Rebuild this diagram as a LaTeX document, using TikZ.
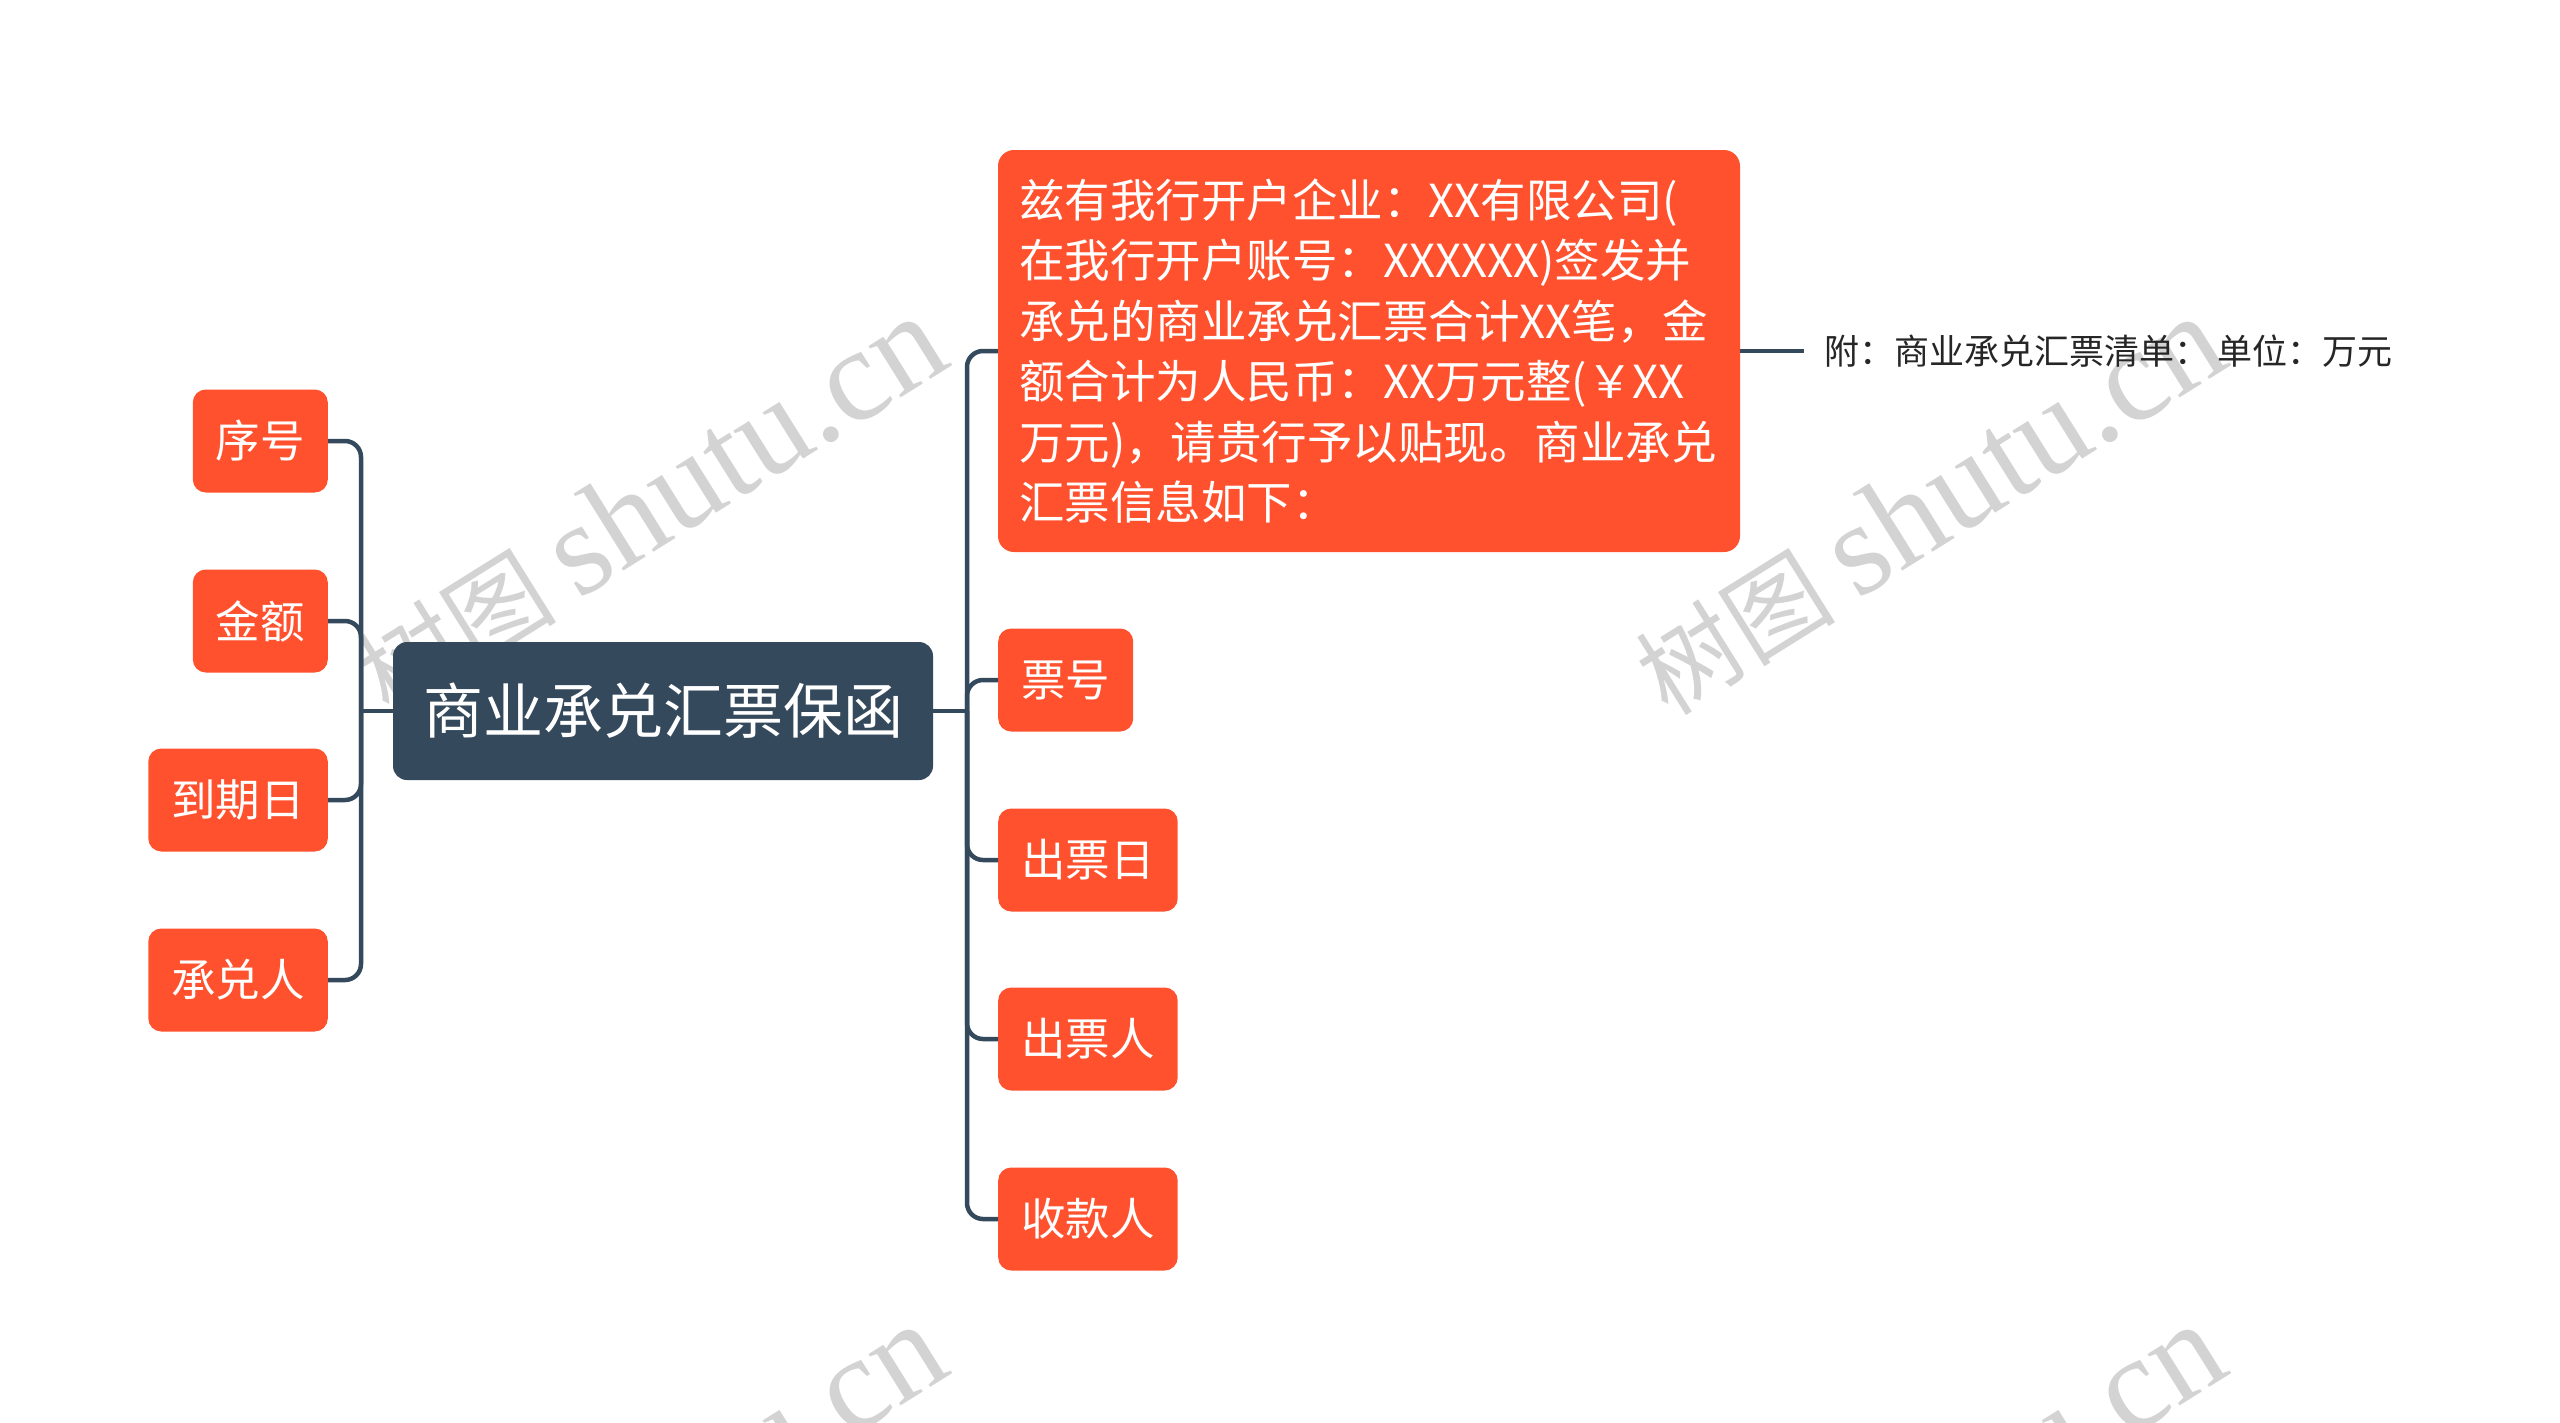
\documentclass[tikz,border=0pt]{standalone}
\usepackage{fontspec}
\setmainfont{Noto Sans CJK SC}
\newfontfamily\wmlatin{Liberation Serif}
\usetikzlibrary{calc}
\definecolor{nodeorange}{HTML}{FF512D}
\definecolor{rootdark}{HTML}{35495C}
\definecolor{wmgray}{HTML}{D3D3D3}
\tikzset{
  leaf/.style={fill=nodeorange, rounded corners=13pt, text=white, inner xsep=23pt, inner ysep=0pt, minimum height=103pt, font=\fontsize{44.5}{52}\selectfont},
  rootbox/.style={fill=rootdark, rounded corners=14pt, text=white, inner xsep=30pt, minimum height=138pt, font=\fontsize{60}{70}\selectfont},
  bigbox/.style={fill=nodeorange, rounded corners=16pt, text=white, minimum width=742pt, minimum height=402pt, text width=700pt, align=left, inner sep=0pt, font=\fontsize{45.5}{60.5}\selectfont},
  conn/.style={draw=rootdark, line width=4.5pt, rounded corners=16pt},
  wm/.style={text=wmgray, rotate=32, inner sep=0pt, font=\fontsize{100}{112}\selectfont},
}
\newcommand{\wmtext}{树图 {\wmlatin\fontsize{132}{132}\selectfont shutu.cn}}
\begin{document}
\begin{tikzpicture}[x=1pt,y={(0pt,-1pt)}]
\useasboundingbox (0,0) rectangle (2560,1422);
\fill[white] (0,0) rectangle (2560,1422);
\begin{scope}
\clip (0,0) rectangle (2560,1422);
\node[wm] (wm1) at (650,506) {\wmtext};
\node[wm] (wm2) at (1929,506) {\wmtext};
\node[wm] (wm3) at (650,1514) {\wmtext};
\node[wm] (wm4) at (1929,1514) {\wmtext};
\end{scope}

\node[rootbox] (root) at (663,711) {商业承兑汇票保函};

\node[leaf, anchor=east] (xh) at (328,441) {序号};
\node[leaf, anchor=east] (je) at (328,621) {金额};
\node[leaf, anchor=east] (dqr) at (328,800) {到期日};
\node[leaf, anchor=east] (cdr) at (328,980) {承兑人};

\node[bigbox] (big) at (1369,351) {兹有我行开户企业：XX有限公司(\\在我行开户账号：XXXXXX)签发并\\承兑的商业承兑汇票合计XX笔，金\\额合计为人民币：XX万元整(￥XX\\万元)，请贵行予以贴现。商业承兑\\汇票信息如下：};
\node[leaf, anchor=west] (ph) at (998,680) {票号};
\node[leaf, anchor=west] (cpr) at (998,860) {出票日};
\node[leaf, anchor=west] (cpp) at (998,1039) {出票人};
\node[leaf, anchor=west] (skr) at (998,1219) {收款人};

\node[anchor=west, inner xsep=20pt, text=black!85, font=\fontsize{35}{40}\selectfont] (att) at (1804,351) {附：商业承兑汇票清单： 单位：万元};

\coordinate (jl) at (361,711);
\coordinate (jr) at (967,711);

\draw[conn] (root.west) -- (jl);
\draw[conn] (jl) |- (xh.east);
\draw[conn] (jl) |- (je.east);
\draw[conn] (jl) |- (dqr.east);
\draw[conn] (jl) |- (cdr.east);

\draw[conn] (root.east) -- (jr);
\draw[conn] (jr) |- (big.west);
\draw[conn] (jr) |- (ph.west);
\draw[conn] (jr) |- (cpr.west);
\draw[conn] (jr) |- (cpp.west);
\draw[conn] (jr) |- (skr.west);

\draw[conn] (big.east) -- (att.west);
\end{tikzpicture}
\end{document}
